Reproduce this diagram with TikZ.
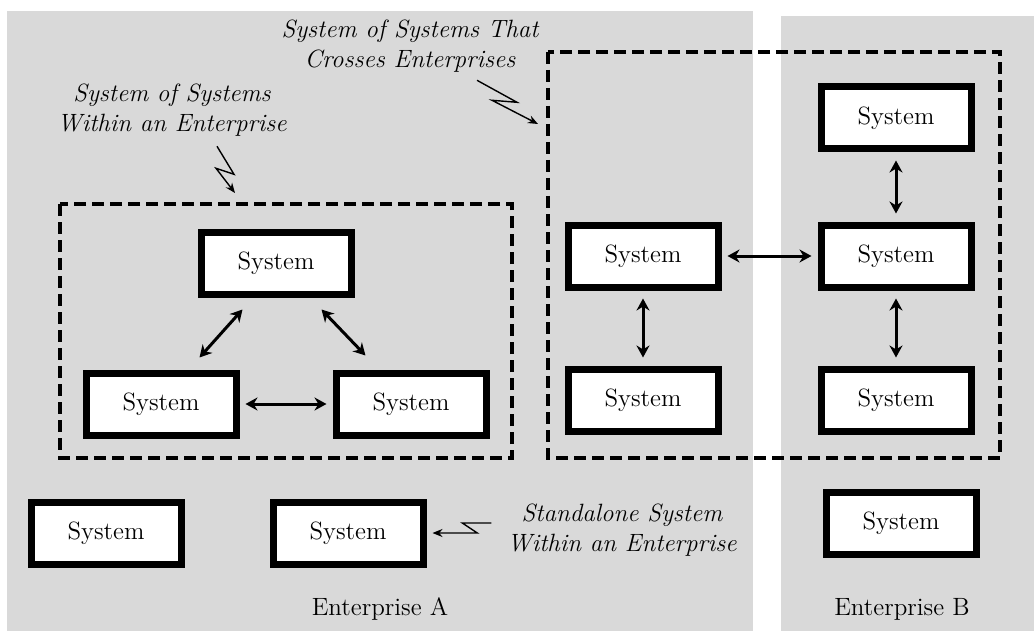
\documentclass[tikz,border=0pt]{standalone}
\usetikzlibrary{arrows.meta}
\definecolor{entgray}{HTML}{D9D9D9}
\begin{document}
\begin{tikzpicture}[x=0.5pt,y=-0.5pt,
system/.style={
% The shape:
rectangle,
draw=black,
line width=3.5pt,
fill=white,
minimum width=75pt,
minimum height=31pt,
font=\fontsize{12.5}{15}\selectfont
},
note/.style={
align=center,
font=\fontsize{12.5}{15}\selectfont\itshape
},
link/.style={
{Stealth[length=6pt,width=6.5pt]}-{Stealth[length=6pt,width=6.5pt]},
line width=1.5pt
},
zap/.style={
-{Stealth[length=5pt,width=4pt]},
line width=0.7pt
},
sosbox/.style={
dash pattern=on 6pt off 3pt,
line width=2pt
}
]
\useasboundingbox (0,0) rectangle (1034,631);
% Enterprises:
\fill[entgray] (7,11) rectangle (753,631);
\fill[entgray] (781,16) rectangle (1034,631);
\node (entA) at (380,609) {\fontsize{12.5}{15}\selectfont Enterprise A};
\node (entB) at (902,609) {\fontsize{12.5}{15}\selectfont Enterprise B};
% Systems of systems:
\draw[sosbox] (60,204) rectangle (512,458);
\draw[sosbox] (548,52) rectangle (1000,458);
% Systems:
\node (st) [system] at (276,263) {System};
\node (sl) [system] at (161,404) {System};
\node (sr) [system] at (411,404) {System};
\node (lm) [system] at (643,256) {System};
\node (lb) [system] at (643,400) {System};
\node (rt) [system] at (896,118) {System};
\node (rm) [system] at (896,256) {System};
\node (rb) [system] at (896,400) {System};
\node (a1) [system] at (106,533) {System};
\node (a2) [system] at (348,533) {System};
\node (b1) [system] at (901,523) {System};
\draw[link] ([shift={(45,12)}]st.south west) -- ([shift={(-40,-12)}]sl.north east);
\draw[link] ([shift={(-33,12)}]st.south east) -- ([shift={(33,-14)}]sr.north west);
\path[shorten <=3pt,shorten >=3pt] (sl) edge[link] (sr) (lm) edge[link] (rm);
\path[shorten <=4pt,shorten >=4pt] (rt) edge[link] (rm) (rm) edge[link] (rb) (lm) edge[link] (lb);
% Notes:
\node (within) [note] at (172,110) {System of Systems\\Within an Enterprise};
\node (crosses) [note] at (410,46) {System of Systems That\\Crosses Enterprises};
\node (alone) [note] at (622,530) {Standalone System\\Within an Enterprise};
\coordinate (tipA) at (235,193);
\coordinate (tipB) at (538,124);
\draw[zap] ([shift={(45,3)}]within.south) -- ++(17,28) -- ++(-18,-6) -- (tipA);
\draw[zap] ([shift={(67,1)}]crosses.south) -- ++(40,22) -- ++(-25,-2) -- (tipB);
\draw[zap,shorten >=3pt] ([shift={(-9,-7)}]alone.west) -- ++(-29,0) -- ++(15,10) -- (a2.east);
\end{tikzpicture}
\end{document}
